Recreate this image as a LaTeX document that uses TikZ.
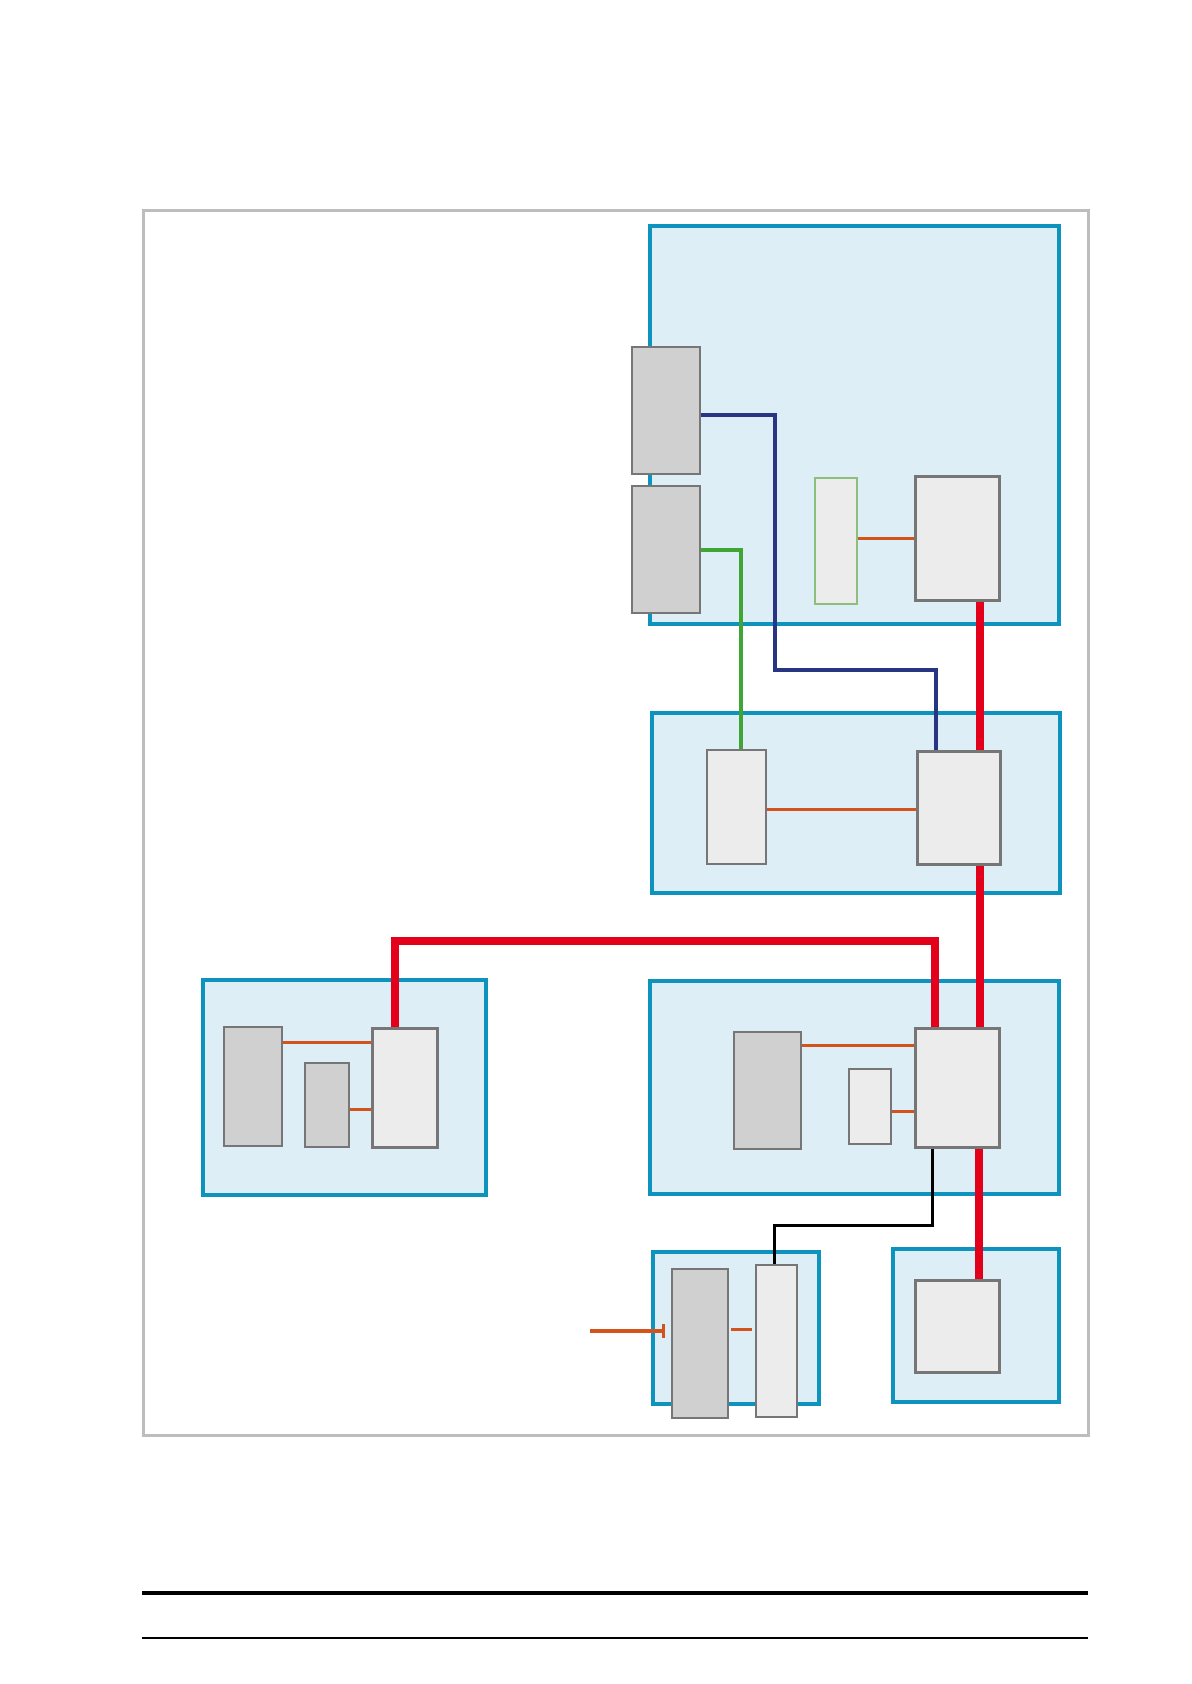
\documentclass[tikz,border=0pt]{standalone}
\usetikzlibrary{fit,arrows.meta}
\definecolor{regfill}{HTML}{DDEEF6}
\definecolor{regline}{HTML}{0E93BE}
\definecolor{boxline}{HTML}{767676}
\definecolor{boxgray}{HTML}{D0D0D0}
\definecolor{boxlight}{HTML}{ECECEC}
\definecolor{greenbox}{HTML}{8CC07A}
\definecolor{redc}{HTML}{E2001A}
\definecolor{bluec}{HTML}{283583}
\definecolor{greenc}{HTML}{3FA535}
\definecolor{orangec}{HTML}{D4531C}
\definecolor{framec}{HTML}{BDBDBD}
\tikzset{
  region/.style={draw=regline, fill=regfill, line width=1.8pt, inner sep=0pt},
  graybox/.style={draw=boxline, fill=boxgray, line width=0.8pt, inner sep=0pt},
  lightbox/.style={draw=boxline, fill=boxlight, line width=0.8pt, inner sep=0pt},
  greenlbox/.style={draw=greenbox, fill=boxlight, line width=0.7pt, inner sep=0pt},
  mainbox/.style={draw=boxline, fill=boxlight, line width=1.5pt, inner sep=0pt},
  redw/.style={draw=redc, line width=3.6pt},
  bluew/.style={draw=bluec, line width=2.4pt},
  greenw/.style={draw=greenc, line width=2.1pt},
  orangew/.style={draw=orangec, line width=1.5pt},
  orangethick/.style={draw=orangec, line width=1.9pt},
  blackw/.style={draw=black, line width=1.5pt},
}
\begin{document}
\begin{tikzpicture}[x=0.5pt,y=-0.5pt]
\useasboundingbox (0,0) rectangle (1191,1684);
% outer frame
\draw[framec, line width=1.5pt] (143,211) rectangle (1088,1435);
% footer rules
\draw[black, line width=2pt] (142,1593) -- (1088,1593);
\draw[black, line width=1pt] (142,1638) -- (1088,1638);
% regions
\node[region, fit={(650,226) (1059,624)}] (reg1) {};
\node[region, fit={(652,713) (1060,893)}] (reg2) {};
\node[region, fit={(203,980) (486,1195)}] (reg3) {};
\node[region, fit={(650,981) (1059,1194)}] (reg4) {};
\node[region, fit={(653,1252) (819,1404)}] (reg5) {};
\node[region, fit={(893,1249) (1059,1402)}] (reg6) {};
% boxes region 1
\node[graybox, fit={(632,347) (700,474)}] (g1) {};
\node[graybox, fit={(632,486) (700,613)}] (g2) {};
\node[greenlbox, fit={(815,478) (857,604)}] (gb) {};
\node[mainbox, fit={(915,476) (999,600)}] (b1) {};
% region 2
\node[lightbox, fit={(707,750) (766,864)}] (l2) {};
\node[mainbox, fit={(917,751) (1000,864)}] (b2) {};
% region 3
\node[graybox, fit={(224,1027) (282,1146)}] (a1) {};
\node[graybox, fit={(305,1063) (349,1147)}] (a2) {};
\node[mainbox, fit={(372,1028) (437,1147)}] (b3) {};
% region 4
\node[graybox, fit={(734,1032) (801,1149)}] (c1) {};
\node[lightbox, fit={(849,1069) (891,1144)}] (c2) {};
\node[mainbox, fit={(915,1028) (999,1147)}] (b4) {};
% region 5
\node[graybox, fit={(672,1269) (728,1418)}] (d1) {};
\node[lightbox, fit={(756,1265) (797,1417)}] (d2) {};
% region 6
\node[mainbox, fit={(915,1280) (999,1372)}] (b6) {};
% connectors
\draw[redw] (b1.south -| 980,0) -- (b2.north -| 980,0);
\draw[redw] (b2.south -| 980,0) -- (b4.north -| 980,0);
\draw[redw] (b4.south -| 979,0) -- (b6.north -| 979,0);
\draw[redw] (b3.north -| 395,0) |- (935,941) -- (b4.north -| 935,0);
\draw[bluew] (g1.east |- 0,415) -| (775,670) -| (b2.north -| 936,0);
\draw[greenw] (g2.east |- 0,550) -| (l2.north -| 741,0);
\draw[orangew] (gb.east |- 0,538) -- (b1.west |- 0,538);
\draw[orangew] (l2.east |- 0,809) -- (b2.west |- 0,809);
\draw[orangew] (a1.east |- 0,1042) -- (b3.west |- 0,1042);
\draw[orangew] (a2.east |- 0,1109) -- (b3.west |- 0,1109);
\draw[orangew] (c1.east |- 0,1045) -- (b4.west |- 0,1045);
\draw[orangew] (c2.east |- 0,1111) -- (b4.west |- 0,1111);
\draw[orangew, shorten <=1pt, shorten >=1.5pt] (d1.east |- 0,1329) -- (d2.west |- 0,1329);
\draw[blackw] (b4.south -| 932,0) |- (774,1225) -- (d2.north -| 774,0);
\coordinate (src) at (590,1331);
\draw[orangethick, -{Bar[width=7pt,line width=1.5pt]}, shorten >=3pt] (src) -- (d1.west |- src);
\end{tikzpicture}
\end{document}
